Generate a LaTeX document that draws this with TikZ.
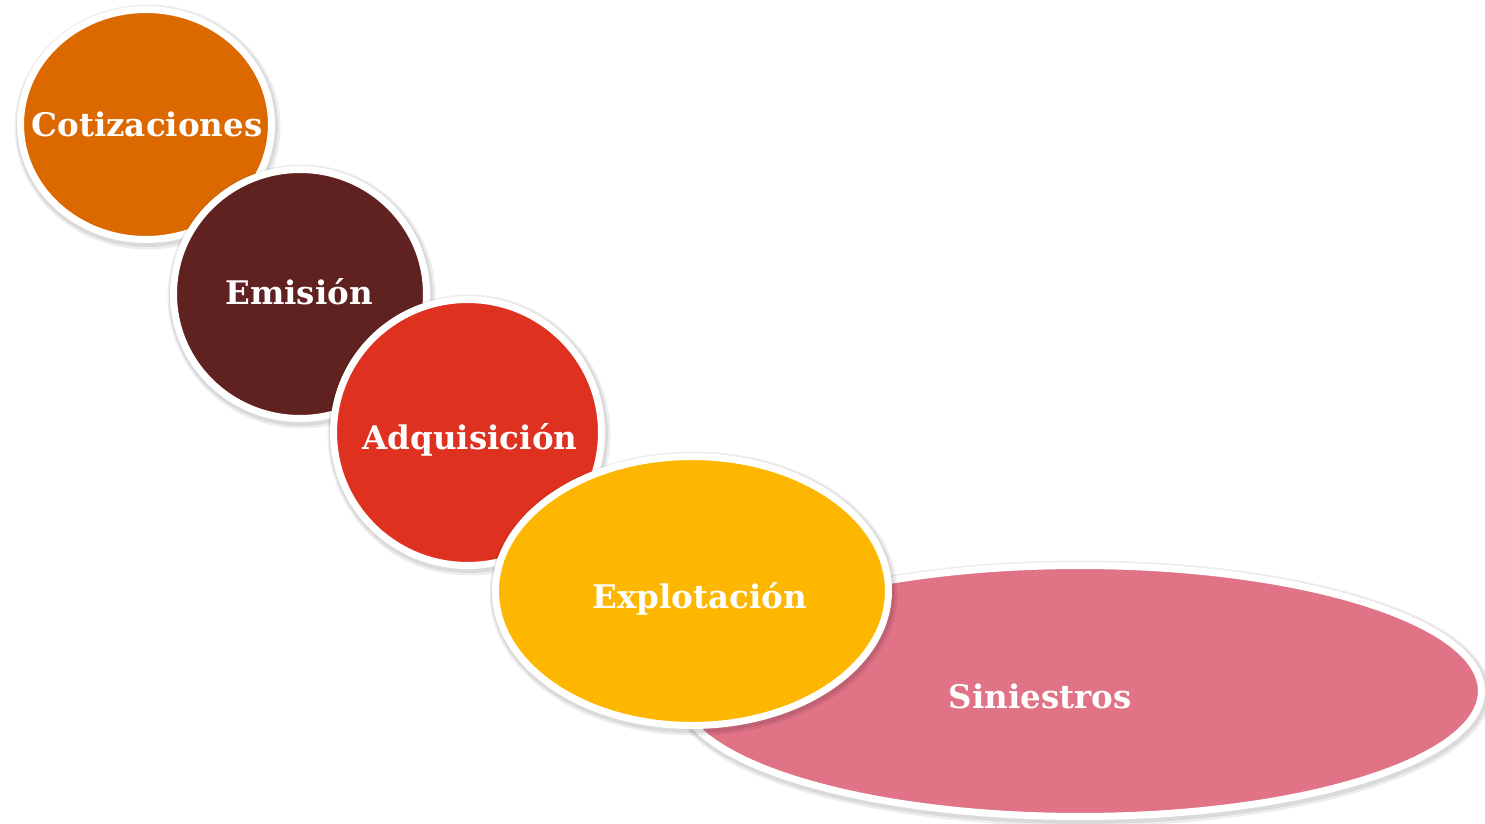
\documentclass[tikz,border=0pt]{standalone}
\usepackage{fontspec}
\setmainfont{DejaVu Serif}
\usepackage{tikz}
\usetikzlibrary{shapes.geometric}
\definecolor{cotizcol}{HTML}{DC6900}
\definecolor{emisioncol}{HTML}{5F2220}
\definecolor{adquiscol}{HTML}{DF3120}
\definecolor{explotcol}{HTML}{FDB700}
\definecolor{siniescol}{HTML}{E07386}

\begin{document}
\begin{tikzpicture}[x=0.02cm,y=-0.02cm,
        bubble/.style={ellipse,draw=white,line width=0.14cm,inner sep=0pt,
            preaction={draw=black,draw opacity=0.07,line width=0.3cm,
                transform canvas={xshift=0.03cm,yshift=-0.05cm}},
            preaction={draw=black,draw opacity=0.08,line width=0.22cm,
                transform canvas={xshift=0.02cm,yshift=-0.04cm}}},
        bubbletext/.style={anchor=base,text=white,inner sep=0pt,
            font=\bfseries\fontsize{18.5}{22}\selectfont}]
        \useasboundingbox (0,0) rectangle (1485,824);
        \node[bubble,fill=cotizcol,minimum width=5.02cm,minimum height=4.6cm] (cotiz) at (146,124.5) {};
        \node[bubbletext] (cotiz-txt) at (147,137) {Cotizaciones};
        \node[bubble,fill=emisioncol,minimum width=5.06cm,minimum height=4.98cm] (emision) at (300,294) {};
        \node[bubbletext] (emision-txt) at (299,305) {Emisión};
        \node[bubble,fill=adquiscol,minimum width=5.36cm,minimum height=5.32cm] (adquis) at (467.5,432.5) {};
        \node[bubbletext] (adquis-txt) at (470,449) {Adquisición};
        \node[bubble,fill=siniescol,minimum width=16.06cm,minimum height=5.02cm] (sinies) at (1080,691) {};
        \node[bubbletext] (sinies-txt) at (1040,708) {Siniestros};
        \node[bubble,fill=explotcol,minimum width=7.86cm,minimum height=5.38cm] (explot) at (692,591) {};
        \node[bubbletext] (explot-txt) at (699.5,608) {Explotación};
\end{tikzpicture}
\end{document}
